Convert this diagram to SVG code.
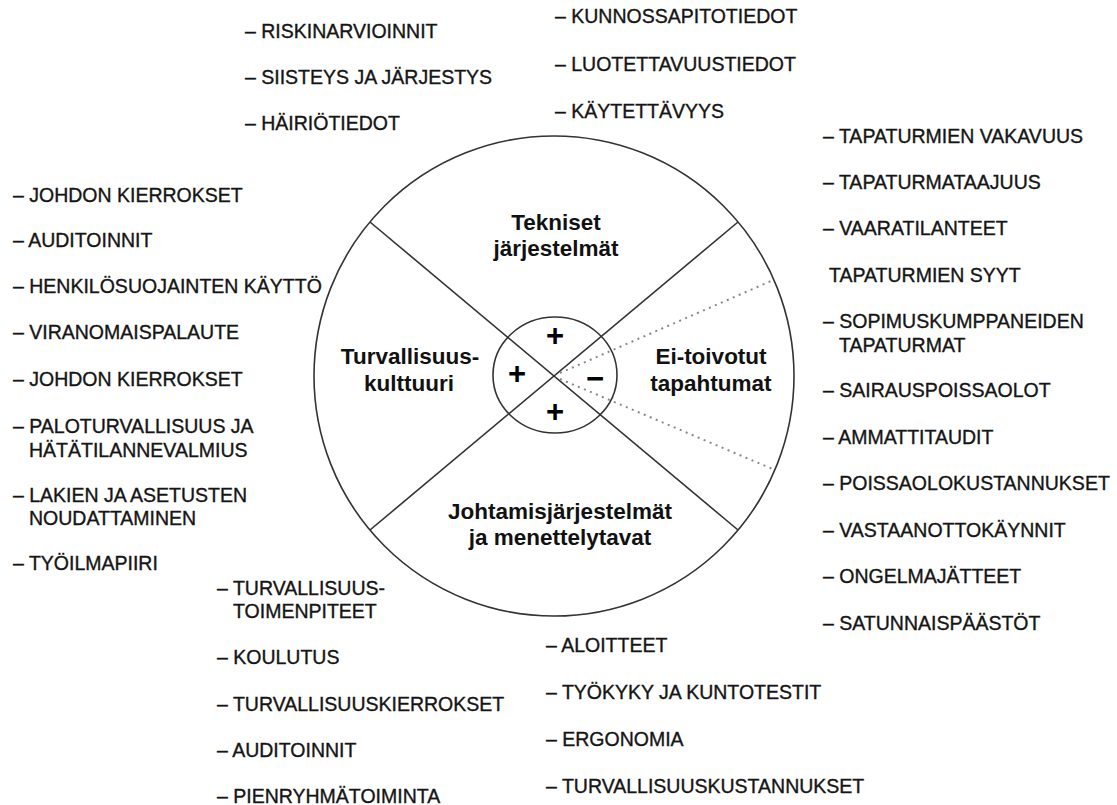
<svg xmlns="http://www.w3.org/2000/svg" width="1117" height="805" viewBox="0 0 1117 805">
  <style>
    .ring { fill: none; stroke: #333; stroke-width: 1.6; }
    .div { stroke: #333; stroke-width: 1.6; }
    .dot { stroke: #888; stroke-width: 2; stroke-dasharray: 2 4.5; fill: none; }
    .sector { font-family: "Liberation Sans", Arial, sans-serif; font-size: 22.5px; font-weight: bold; fill: #111; text-anchor: middle; }
    .sign { font-family: "Liberation Sans", Arial, sans-serif; font-size: 31px; font-weight: bold; fill: #000; text-anchor: middle; }
    .item { font-family: "Liberation Sans", Arial, sans-serif; font-size: 19.5px; fill: #151515; stroke: #151515; stroke-width: 0.35; }
  </style>
  <rect width="1117" height="805" fill="#fff"/>

  <!-- wheel outline -->
  <g id="wheel">
    <circle class="ring" cx="554" cy="376" r="240"/>
  </g>

  <!-- dividing spokes and the dotted wedge -->
  <g id="connectors">
    <line class="div" x1="370" y1="222" x2="738" y2="530"/>
    <line class="div" x1="738" y1="222" x2="370" y2="530"/>
    <line class="dot" x1="560" y1="373" x2="771" y2="281"/>
    <line class="dot" x1="560" y1="379" x2="775" y2="470"/>
  </g>

  <!-- hub with the signs of each sector -->
  <g id="hub">
    <ellipse class="ring" cx="555" cy="375" rx="62" ry="58"/>
    <text class="sign" x="555" y="346">+</text>
    <text class="sign" x="517" y="384">+</text>
    <text class="sign" x="555" y="422">+</text>
    <text class="sign" x="595" y="389">−</text>
  </g>

  <!-- sector titles -->
  <g id="sector-tekniset">
    <text class="sector" x="556" y="230">Tekniset</text>
    <text class="sector" x="556" y="256">järjestelmät</text>
  </g>
  <g id="sector-kulttuuri">
    <text class="sector" x="410" y="364">Turvallisuus-</text>
    <text class="sector" x="409" y="391">kulttuuri</text>
  </g>
  <g id="sector-tapahtumat">
    <text class="sector" x="711" y="364">Ei-toivotut</text>
    <text class="sector" x="711" y="391">tapahtumat</text>
  </g>
  <g id="sector-johtamis">
    <text class="sector" x="560" y="519">Johtamisjärjestelmät</text>
    <text class="sector" x="560" y="545">ja menettelytavat</text>
  </g>

  <!-- indicator lists -->
  <g id="list-top-left" class="item">
    <text x="245" y="38">– RISKINARVIOINNIT</text>
    <text x="245" y="84">– SIISTEYS JA JÄRJESTYS</text>
    <text x="245" y="130">– HÄIRIÖTIEDOT</text>
  </g>
  <g id="list-top-right" class="item">
    <text x="555" y="23">– KUNNOSSAPITOTIEDOT</text>
    <text x="555" y="71">– LUOTETTAVUUSTIEDOT</text>
    <text x="555" y="118">– KÄYTETTÄVYYS</text>
  </g>
  <g id="list-left" class="item">
    <text x="13" y="202">– JOHDON KIERROKSET</text>
    <text x="13" y="247">– AUDITOINNIT</text>
    <text x="13" y="293">– HENKILÖSUOJAINTEN KÄYTTÖ</text>
    <text x="13" y="339">– VIRANOMAISPALAUTE</text>
    <text x="13" y="386">– JOHDON KIERROKSET</text>
    <text x="13" y="433">– PALOTURVALLISUUS JA<tspan x="29" y="457">HÄTÄTILANNEVALMIUS</tspan></text>
    <text x="13" y="502">– LAKIEN JA ASETUSTEN<tspan x="29" y="525">NOUDATTAMINEN</tspan></text>
    <text x="13" y="570">– TYÖILMAPIIRI</text>
  </g>
  <g id="list-right" class="item">
    <text x="823" y="143">– TAPATURMIEN VAKAVUUS</text>
    <text x="823" y="189">– TAPATURMATAAJUUS</text>
    <text x="823" y="235">– VAARATILANTEET</text>
    <text x="829" y="282">TAPATURMIEN SYYT</text>
    <text x="823" y="328">– SOPIMUSKUMPPANEIDEN<tspan x="839" y="352">TAPATURMAT</tspan></text>
    <text x="823" y="397">– SAIRAUSPOISSAOLOT</text>
    <text x="823" y="444">– AMMATTITAUDIT</text>
    <text x="823" y="490">– POISSAOLOKUSTANNUKSET</text>
    <text x="823" y="537">– VASTAANOTTOKÄYNNIT</text>
    <text x="823" y="583">– ONGELMAJÄTTEET</text>
    <text x="823" y="630">– SATUNNAISPÄÄSTÖT</text>
  </g>
  <g id="list-bottom-left" class="item">
    <text x="217" y="595">– TURVALLISUUS-<tspan x="233" y="618">TOIMENPITEET</tspan></text>
    <text x="217" y="664">– KOULUTUS</text>
    <text x="217" y="711">– TURVALLISUUSKIERROKSET</text>
    <text x="217" y="757">– AUDITOINNIT</text>
    <text x="217" y="803">– PIENRYHMÄTOIMINTA</text>
  </g>
  <g id="list-bottom-right" class="item">
    <text x="546" y="652">– ALOITTEET</text>
    <text x="546" y="699">– TYÖKYKY JA KUNTOTESTIT</text>
    <text x="546" y="746">– ERGONOMIA</text>
    <text x="546" y="793">– TURVALLISUUSKUSTANNUKSET</text>
  </g>
</svg>
